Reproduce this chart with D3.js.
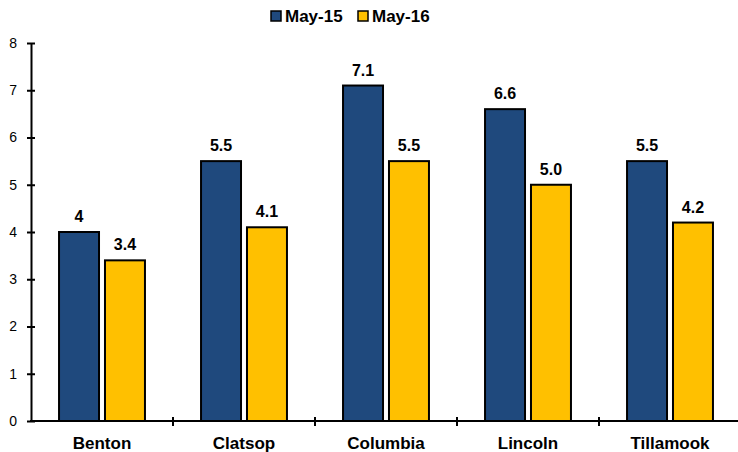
<!DOCTYPE html>
<html><head><meta charset="utf-8">
<script src="https://cdn.jsdelivr.net/npm/d3@7"></script>
<style>body{margin:0;background:#fff}svg{display:block}text{font-family:Arial,"Liberation Sans",sans-serif}</style>
</head><body><svg id="c" width="738" height="452"></svg>
<script>
const categories = ["Benton","Clatsop","Columbia","Lincoln","Tillamook"];
const seriesNames = ["May-15","May-16"];
const may15 = [4, 5.5, 7.1, 6.6, 5.5];
const may16 = [3.4, 4.1, 5.5, 5.0, 4.2];
const may15Labels = ["4","5.5","7.1","6.6","5.5"];
const may16Labels = ["3.4","4.1","5.5","5.0","4.2"];
const yTicks = [0,1,2,3,4,5,6,7,8];
const colors = ["#1F497D","#FFC000"];

const svg = d3.select("#c");
const x0 = d3.scaleBand().domain(categories).range([31, 741]).padding(0);
const x1 = d3.scaleBand().domain(seriesNames).range([0, x0.bandwidth()]).paddingInner(0.13).paddingOuter(0.61);
const y = d3.scaleLinear().domain([0, 8]).range([421, 43]);

const values = [may15, may16];
const labels = [may15Labels, may16Labels];
const data = [];
categories.forEach((c, i) => seriesNames.forEach((s, j) => data.push({c, s, j, v: values[j][i], l: labels[j][i]})));

svg.selectAll("rect.bar").data(data).join("rect").attr("class","bar")
  .attr("x", d => x0(d.c) + x1(d.s))
  .attr("width", x1.bandwidth())
  .attr("y", d => y(d.v))
  .attr("height", d => y(0) - y(d.v))
  .attr("fill", d => colors[d.j])
  .attr("stroke", "#000").attr("stroke-width", 2);

svg.selectAll("text.val").data(data).join("text").attr("class","val")
  .attr("x", d => x0(d.c) + x1(d.s) + x1.bandwidth()/2)
  .attr("y", d => y(d.v) - 10)
  .attr("text-anchor","middle").attr("font-size","16px").attr("font-weight","bold")
  .text(d => d.l);

// y axis
const yAxis = d3.axisLeft(y).tickValues(yTicks).tickSize(0).tickPadding(14);
const gy = svg.append("g").attr("transform","translate(31,0)").call(yAxis);
gy.select(".domain").attr("stroke","#000").attr("stroke-width",2);
gy.selectAll(".tick text").attr("font-size","14px").attr("fill","#000").attr("font-family","Arial, 'Liberation Sans', sans-serif");
gy.selectAll(".tick").append("line").attr("x1",-4).attr("x2",4).attr("stroke","#000").attr("stroke-width",2);

// x axis
const gx = svg.append("g").attr("transform","translate(0,421)");
gx.append("line").attr("x1",30).attr("x2",741).attr("stroke","#000").attr("stroke-width",2);
gx.selectAll("line.tk").data(categories.slice(1)).join("line").attr("class","tk")
  .attr("x1", d => x0(d)).attr("x2", d => x0(d)).attr("y1",-4).attr("y2",5)
  .attr("stroke","#000").attr("stroke-width",2);
gx.selectAll("text").data(categories).join("text")
  .attr("x", d => x0(d) + x0.bandwidth()/2).attr("y", 28)
  .attr("text-anchor","middle").attr("font-size","17px").attr("font-weight","bold")
  .text(d => d);

// legend
const lg = svg.append("g");
const lx = [271, 358];
seriesNames.forEach((s, j) => {
  lg.append("rect").attr("x", lx[j]).attr("y", 11).attr("width", 10).attr("height", 10)
    .attr("fill", colors[j]).attr("stroke","#000").attr("stroke-width",1.5);
  lg.append("text").attr("x", lx[j] + 14).attr("y", 22).attr("font-size","17px").attr("font-weight","bold").text(s);
});
</script></body></html>
